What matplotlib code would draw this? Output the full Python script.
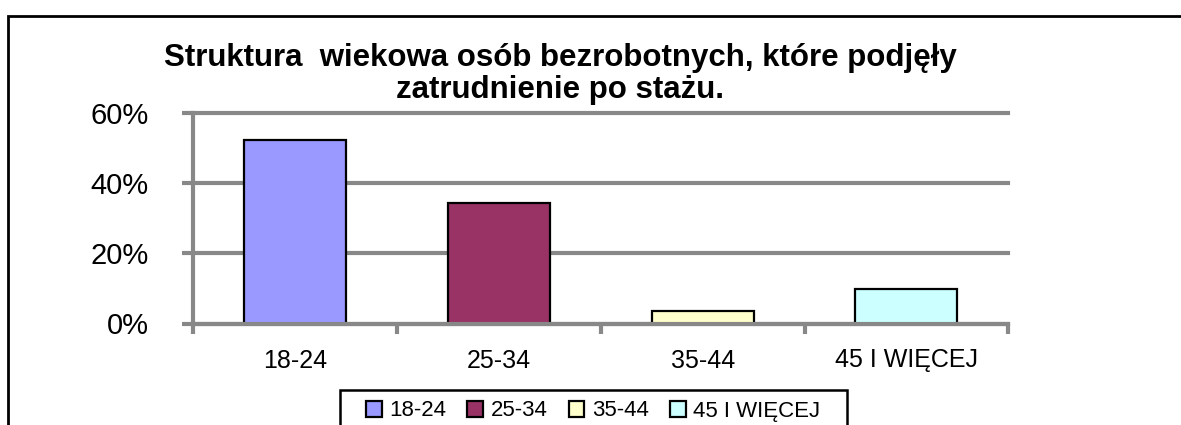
import matplotlib.pyplot as plt
from matplotlib.patches import Rectangle
from matplotlib.ticker import PercentFormatter

plt.switch_backend('Agg')
plt.rcParams['font.family'] = ['Liberation Sans', 'DejaVu Sans']

# dane
categories = ['18-24', '25-34', '35-44', '45 I WIĘCEJ']
values = [0.523, 0.343, 0.037, 0.097]
colors = ['#9999FF', '#993366', '#FFFFCC', '#CCFFFF']
title = 'Struktura  wiekowa osób bezrobotnych, które podjęły\nzatrudnienie po stażu.'

W, H = 1181, 425
fig = plt.figure(figsize=(W / 100, H / 100), dpi=100)
ax = fig.add_axes([193.3 / W, 1 - 323.5 / H, (1008.3 - 193.3) / W, (323.5 - 112.7) / H])

x = range(len(categories))
bars = ax.bar(x, values, width=0.5, color=colors, edgecolor='black', linewidth=1.6,
              label=categories, zorder=3)

ax.set_xlim(-0.5, len(categories) - 0.5)
ax.set_ylim(0, 0.6)
ax.set_yticks([0, 0.2, 0.4, 0.6])
ax.yaxis.set_major_formatter(PercentFormatter(1.0, decimals=0))
ax.grid(axis='y', color='#888888', linewidth=3, zorder=1)
for gl in ax.get_ygridlines():
    gl.set_clip_on(False)
ax.set_axisbelow(True)

# os x: znaczniki na granicach kategorii, etykiety w srodku
ax.set_xticks([i - 0.5 for i in range(len(categories) + 1)])
ax.set_xticklabels([])
ax.set_xticks(list(x), minor=True)
ax.set_xticklabels(categories, minor=True, fontsize=18)
ax.tick_params(axis='x', which='minor', length=0, pad=18)
ax.tick_params(axis='x', which='major', length=7, width=3, color='#888888')
ax.tick_params(axis='y', labelsize=21, length=8, width=3, color='#888888', pad=24)

for side in ['top', 'right']:
    ax.spines[side].set_visible(False)
for side in ['left', 'bottom']:
    ax.spines[side].set_color('#888888')
    ax.spines[side].set_linewidth(3)
    ax.spines[side].set_zorder(4)

fig.text(560 / W, 1 - 74 / H, title, ha='center', va='center', fontsize=22.5,
         fontweight='bold', linespacing=1.12)

# legenda
fig.legend(handles=bars, labels=categories, ncol=4, loc='center left',
           bbox_to_anchor=(366 / W, 1 - 411 / H), frameon=False, fontsize=16,
           handlelength=0.7, handleheight=0.7, handletextpad=0.35,
           columnspacing=0.95, borderpad=0, borderaxespad=0)
fig.patches.append(Rectangle((340 / W, -0.2), (847 - 340) / W, 0.2 + 1 - 390 / H,
                             transform=fig.transFigure, fill=False,
                             edgecolor='black', linewidth=1.8))

# ramka wykresu
fig.patches.append(Rectangle((8 / W, -0.2), 1.3, 0.2 + 1 - 16 / H,
                             transform=fig.transFigure, fill=False,
                             edgecolor='black', linewidth=2))

plt.savefig('out.png', dpi=100)
plt.close()
